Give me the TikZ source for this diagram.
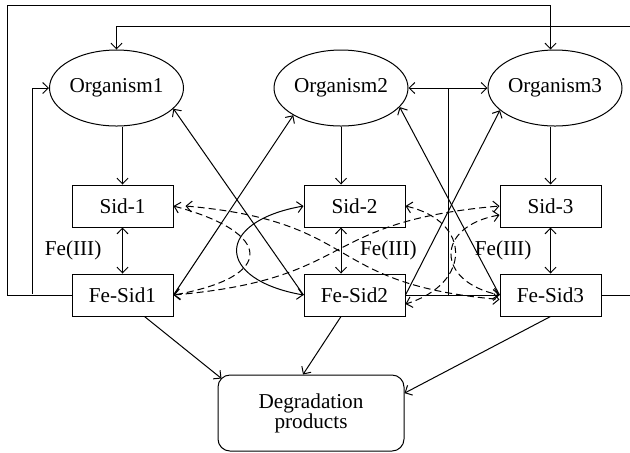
\documentclass[tikz,border=0pt]{standalone}
\usepackage{fontspec}
\setmainfont{Liberation Serif}
\usetikzlibrary{positioning,shapes.geometric,arrows.meta,calc}

\begin{document}
\begin{tikzpicture}[x=0.5pt,y=-0.5pt,line width=0.5pt,
            >={Straight Barb[length=2.8pt,width=5.5pt]},
            font=\fontsize{10.6}{12}\selectfont,
            org node/.style={ellipse,draw,minimum width=67pt,minimum height=38pt,inner sep=0pt},
            sid node/.style={rectangle,draw,minimum width=50.5pt,minimum height=21pt,inner sep=0pt},
            cross/.style={dash pattern=on 3.5pt off 2pt}]

        \useasboundingbox (0,0) rectangle (630,452);

        % Define vertices
        \node[sid node] (s1) at (122.5,206) {Sid-1};
        \node[sid node] (s2) [right=65pt of s1] {Sid-2};
        \node[sid node] (s3) [right=47pt of s2] {Sid-3};
        \node[sid node] (fs1) [below=23pt of s1] {Fe-Sid1};
        \node[sid node] (fs2) [below=23pt of s2] {Fe-Sid2};
        \node[sid node] (fs3) [below=23pt of s3] {Fe-Sid3};
        \node[org node] (o1) at (116.5,88) {Organism1};
        \node[org node] (o2) at (341,88) {Organism2};
        \node[org node] (o3) at (555,88) {Organism3};
        \node[draw,rounded corners=6pt,minimum width=93pt,minimum height=38pt,
              align=center,font=\fontsize{10.6}{10}\selectfont] (dp) at (311,413) {Degradation\\products};

        \coordinate (ul) at (7,5);
        \coordinate (ur) at (640,26);
        \coordinate (bl) at (32,294);
        \coordinate (mid) at ($(o2.east)!0.5!(o3.west)$);

        % Draw edges
        \draw[->] (s1 |- o1.south) -- (s1.north);
        \draw[->] (o2.south) -- (o2.south |- s2.north);
        \draw[->] (s3 |- o3.south) -- (s3.north);
        \draw[<->] (s1.south) -- node[left=7pt] {Fe(III)} (fs1.north);
        \draw[<->] (o2 |- s2.south) -- node[right=6pt] {Fe(III)} (o2 |- fs2.north);
        \draw[<->] (s3.south) -- node[left=6pt] {Fe(III)} (fs3.north);

        \path[->]
            (fs1.east) edge (o2.south west)
            (fs2.west) edge (o1.-20)
            (fs2.east) edge (o3.202)
            (fs3.west) edge (o2.-18)
            (fs2.east) edge (fs3.west)
            ([xshift=11pt]fs1.south) edge ([shift={(4,4)}]dp.north west)
            (o2 |- fs2.south) edge ([xshift=-4pt]dp.north)
            (fs3.south) edge (dp.12);

        \draw[<->] (o2.east) -- (o3.west);
        \draw (mid) -- (mid |- fs2.east);

        % loops round the outside
        \draw[->] (fs1.west) -| (ul) -| (s3 |- o3.north);
        \draw[->] (bl) |- (o1.west);
        \draw[->] (fs3.east) -| (ur) -| (o1.north);

        % exchange between the strains
        \draw[<->,cross] ([xshift=6pt]s1.east) to[out=-5,in=175,looseness=1.4] (fs3.185);
        \draw[<->,cross] (fs1.east) to[out=5,in=185,looseness=1.4] (s3.west);
        \draw[<->,cross] (s1.east) to[out=-15,in=10,looseness=3] (fs1.east);
        \draw[<->] (s2.west) to[out=190,in=170,looseness=2.6] (fs2.west);
        \draw[<->,cross] (s2.east) to[out=-13,in=17,looseness=1.8] (fs2.-10);
        \draw[<->,cross] (s3.190) to[out=190,in=168,looseness=2.1] (fs3.west);

        \end{tikzpicture}
\end{document}
